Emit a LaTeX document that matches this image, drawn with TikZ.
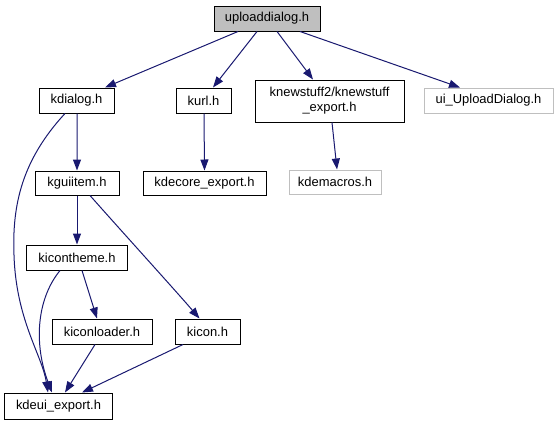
\documentclass[tikz,border=0pt]{standalone}
\usepackage{fontspec}
\setmainfont{Liberation Sans}
\usetikzlibrary{arrows.meta}
\definecolor{edgeblue}{HTML}{191970}
\definecolor{lightborder}{HTML}{BFBFBF}
\begin{document}
\begin{tikzpicture}[x=1bp,y=-1bp,
  box/.style={draw=black,line width=1bp,fill=white,inner sep=0pt,minimum height=25bp,
    font=\fontsize{13}{15}\selectfont,align=center},
  graybox/.style={box,draw=lightborder},
  rootbox/.style={box,fill=lightborder},
  edge/.style={draw=edgeblue,line width=1bp,-{Triangle[length=11bp,width=8bp]}}]
\useasboundingbox (0,0) rectangle (560,425);
\node[rootbox,minimum width=106bp] (up) at (267,18.5) {uploaddialog.h};
\node[box,minimum width=75bp] (kdialog) at (76.5,100.5) {kdialog.h};
\node[box,minimum width=55bp] (kurl) at (203.5,100.5) {kurl.h};
\node[box,minimum width=149bp,minimum height=42bp] (kns) at (329.5,101) {knewstuff2/knewstuff\\\_export.h};
\node[graybox,minimum width=129bp] (ui) at (488.5,100.5) {ui\_UploadDialog.h};
\node[box,minimum width=84bp,minimum height=24bp] (kgui) at (77,183) {kguiitem.h};
\node[box,minimum width=123bp,minimum height=24bp] (kdecore) at (204.5,183) {kdecore\_export.h};
\node[graybox,minimum width=92bp,minimum height=24bp] (kdemacros) at (335,182) {kdemacros.h};
\node[box,minimum width=100bp] (kicontheme) at (77,257.5) {kicontheme.h};
\node[box,minimum width=100bp] (kiconloader) at (102,331.5) {kiconloader.h};
\node[box,minimum width=65bp] (kicon) at (207.5,331.5) {kicon.h};
\node[box,minimum width=107bp,minimum height=26bp] (kdeui) at (58.5,406) {kdeui\_export.h};

\draw[edge] ([xshift=-29bp]up.south) -- ([xshift=28.5bp]kdialog.north);
\draw[edge] ([xshift=-10bp]up.south) -- ([xshift=9.5bp]kurl.north);
\draw[edge] ([xshift=10bp]up.south) -- ([xshift=-16.5bp]kns.north);
\draw[edge] ([xshift=33bp]up.south) -- ([xshift=-28.5bp]ui.north);
\draw[edge] ([xshift=0.5bp]kdialog.south) -- (kgui.north);
\draw[edge] ([xshift=-11.5bp]kdialog.south) .. controls (22,160) and (12,205) .. (14,255)
   .. controls (16,320) and (42,355) .. ([xshift=-10.5bp]kdeui.north);
\draw[edge] ([xshift=0.5bp]kurl.south) -- (kdecore.north);
\draw[edge] ([xshift=2.5bp]kns.south) -- ([xshift=2bp]kdemacros.north);
\draw[edge] (kgui.south) -- (kicontheme.north);
\draw[edge] ([xshift=13bp]kgui.south) .. controls (125,235) and (175,290) .. ([xshift=-8bp]kicon.north);
\draw[edge] ([xshift=5bp]kicontheme.south) -- ([xshift=-5bp]kiconloader.north);
\draw[edge] ([xshift=-17bp]kicontheme.south) .. controls (36,300) and (34,345) .. ([xshift=-6.5bp]kdeui.north);
\draw[edge] ([xshift=-7bp]kiconloader.south) -- ([xshift=6.5bp]kdeui.north);
\draw[edge] ([xshift=-24.5bp]kicon.south) -- ([xshift=23.5bp]kdeui.north);
\end{tikzpicture}
\end{document}
